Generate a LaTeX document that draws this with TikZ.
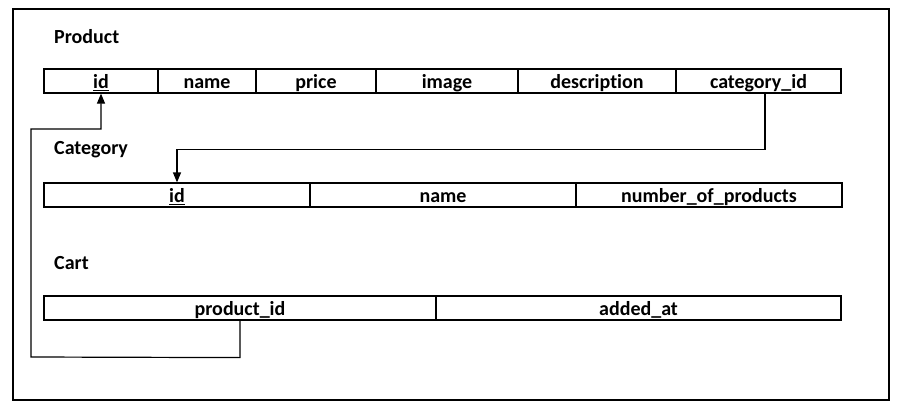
\documentclass[tikz,border=0pt]{standalone}
\usepackage{fontspec}
\setmainfont{Carlito}[Ligatures=NoCommon]
\usetikzlibrary{arrows.meta}
\begin{document}
\begin{tikzpicture}[x=1pt,y=-1pt,
  cell/.style={draw, line width=1.2pt, minimum height=24pt, inner sep=0pt, text height=16pt, text depth=1pt, font=\fontsize{20}{22}\selectfont\bfseries},
  title/.style={anchor=west, inner sep=0pt, font=\fontsize{20}{22}\selectfont\bfseries},
  link/.style={line width=1.2pt, -{Triangle[width=8pt,length=10pt]}},
  ]
\useasboundingbox (0,0) rectangle (899,412);
\draw[line width=1.2pt] (13,9) rectangle (889,400);
% Product
\node[title] (tprod) at (54,37) {Product};
\node[cell, minimum width=114pt] (pid) at (101,81) {\underline{id}};
\node[cell, minimum width=98pt] (pname) at (207,81) {name};
\node[cell, minimum width=120pt] (pprice) at (316,81) {price};
\node[cell, minimum width=142pt] (pimage) at (447,81) {image};
\node[cell, minimum width=158pt] (pdesc) at (597,81) {description};
\node[cell, minimum width=165pt] (pcatid) at (758.5,81) {category\_id};
% Category
\node[title] (tcat) at (54,150) {Category};
\node[cell, minimum width=266pt] (cid) at (177,195) {\underline{id}};
\node[cell, minimum width=266pt] (cname) at (443,195) {name};
\node[cell, minimum width=266pt] (cnum) at (709,195) {number\_of\_products};
% Cart
\node[title] (tcart) at (54,263) {Cart};
\node[cell, minimum width=392pt] (cpid) at (240,308) {product\_id};
\node[cell, minimum width=405pt] (cadded) at (638.5,308) {added\_at};
% connectors
\draw[link] ([xshift=6.5pt]pcatid.south) -- ++(0,56) -| (cid.north);
\coordinate (b1) at (31,357);
\coordinate (b2) at (31,129);
\draw[link] (cpid.south) -- ++(0,37) -- (b1) -- (b2) -| (pid.south);
\end{tikzpicture}
\end{document}
